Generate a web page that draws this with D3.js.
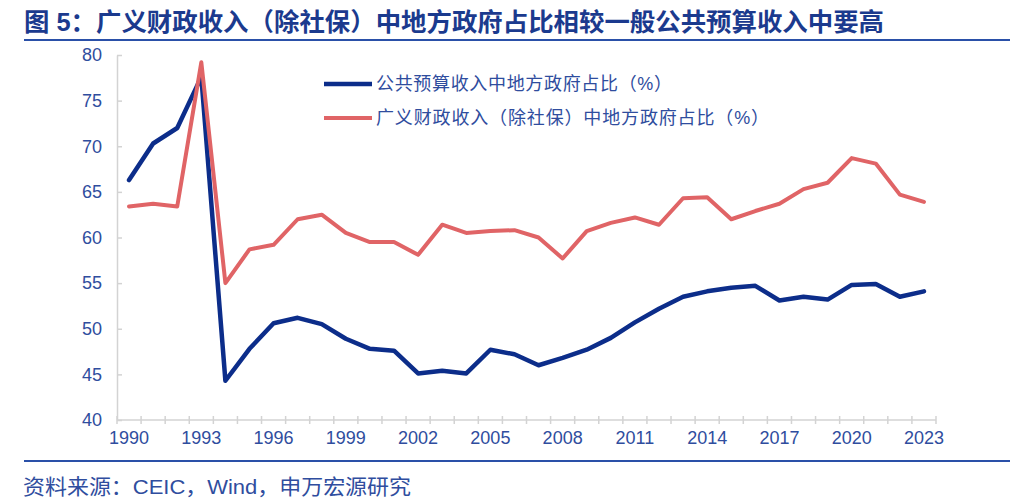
<!DOCTYPE html>
<html lang="zh">
<head>
<meta charset="utf-8">
<title>图 5</title>
<script type="text/javascript" src="https://d3js.org/d3.v7.min.js"></script>
<style>
  body { margin: 0; background: #fff; }
  svg { display: block; }
  .title { font-family: "Liberation Sans", "Noto Sans CJK SC", sans-serif; font-weight: bold; font-size: 25px; fill: #1b3a8e; }
  .tick text, .legend text, .source { font-family: "Liberation Sans", "Noto Sans CJK SC", sans-serif; font-size: 18px; fill: #2f4d9e; }
  .source { font-size: 21px; }
  .axis path, .axis line { stroke: #d3d3d3; stroke-width: 1.5; }
  .line { fill: none; stroke-linejoin: round; stroke-linecap: round; }
</style>
</head>
<body>
<div id="container"></div>
<script type="text/javascript">
var years = d3.range(1990, 2024);
var xTickLabels = [1990, 1993, 1996, 1999, 2002, 2005, 2008, 2011, 2014, 2017, 2020, 2023];
var yTicks = [40, 45, 50, 55, 60, 65, 70, 75, 80];

// 公共预算收入中地方政府占比（%）
var budgetShare = [66.3, 70.3, 72.0, 77.6, 44.3, 47.8, 50.6, 51.2, 50.5, 48.9, 47.8, 47.6,
  45.1, 45.4, 45.1, 47.7, 47.2, 46.0, 46.8, 47.7, 49.0, 50.7, 52.2, 53.5,
  54.1, 54.5, 54.7, 53.1, 53.5, 53.2, 54.8, 54.9, 53.5, 54.1];
// 广义财政收入（除社保）中地方政府占比（%）
var broadShare = [63.4, 63.7, 63.4, 79.2, 55.0, 58.7, 59.2, 62.0, 62.5, 60.5, 59.5, 59.5,
  58.1, 61.4, 60.5, 60.7, 60.8, 60.0, 57.7, 60.7, 61.6, 62.2, 61.4, 64.3,
  64.4, 62.0, 62.9, 63.7, 65.3, 66.0, 68.7, 68.1, 64.7, 63.9];

var seriesNames = ["公共预算收入中地方政府占比（%）", "广义财政收入（除社保）中地方政府占比（%）"];
var seriesColors = ["#0c2d8a", "#e06466"];
var seriesWidths = [4.5, 4];
var legendLen = [296, 393];

var w = 1024, h = 499;
var svg = d3.select("div#container").append("svg")
  .attr("width", w).attr("height", h)
  .attr("viewBox", "0 0 " + w + " " + h);

// title & rules
svg.append("text").attr("class", "title").attr("x", 24).attr("y", 31)
  .attr("textLength", 860).attr("lengthAdjust", "spacingAndGlyphs")
  .text("图 5：广义财政收入（除社保）中地方政府占比相较一般公共预算收入中要高");
svg.append("line").attr("x1", 24).attr("x2", 1010).attr("y1", 40).attr("y2", 40)
  .attr("stroke", "#2a50a8").attr("stroke-width", 2);
svg.append("line").attr("x1", 24).attr("x2", 1010).attr("y1", 461).attr("y2", 461)
  .attr("stroke", "#2a50a8").attr("stroke-width", 2);
svg.append("text").attr("class", "source").attr("x", 23).attr("y", 494)
  .attr("textLength", 388).attr("lengthAdjust", "spacingAndGlyphs")
  .text("资料来源：CEIC，Wind，申万宏源研究");

var x = d3.scaleBand().domain(years).range([117, 936]);
var y = d3.scaleLinear().domain([40, 80]).range([420, 55]);

// x axis: ticks at band boundaries, labels every 3 years
var xAxisG = svg.append("g").attr("class", "axis").attr("transform", "translate(0,420)");
xAxisG.append("line").attr("x1", x.range()[0]).attr("x2", x.range()[1]);
xAxisG.selectAll("line.tk").data(years.concat([2024])).enter().append("line")
  .attr("class", "tk")
  .attr("x1", function(d) { return x.range()[0] + (d - 1990) * x.step(); })
  .attr("x2", function(d) { return x.range()[0] + (d - 1990) * x.step(); })
  .attr("y1", -4).attr("y2", 4);
var xLab = d3.axisBottom(x).tickValues(xTickLabels).tickSize(0).tickPadding(11);
var xl = svg.append("g").attr("transform", "translate(0,420)").call(xLab);
xl.select(".domain").remove();

// y axis
var yAxis = d3.axisLeft(y).tickValues(yTicks).tickSize(-5).tickPadding(15).tickSizeOuter(0);
var yg = svg.append("g").attr("class", "axis").attr("transform", "translate(117,0)").call(yAxis);

// lines
var line = d3.line()
  .x(function(d, i) { return x(years[i]) + x.bandwidth() / 2; })
  .y(function(d) { return y(d); });

[budgetShare, broadShare].forEach(function(s, k) {
  svg.append("path").datum(s).attr("class", "line")
    .attr("stroke", seriesColors[k]).attr("stroke-width", seriesWidths[k])
    .attr("d", line);
});

// legend
var legend = svg.append("g").attr("class", "legend");
seriesNames.forEach(function(name, k) {
  var ly = 84 + k * 34;
  legend.append("line").attr("x1", 324).attr("x2", 372).attr("y1", ly).attr("y2", ly)
    .attr("stroke", seriesColors[k]).attr("stroke-width", seriesWidths[k]);
  legend.append("text").attr("x", 376).attr("y", ly).attr("dy", "0.35em")
    .attr("textLength", legendLen[k]).attr("lengthAdjust", "spacing").text(name);
});
</script>
</body>
</html>
